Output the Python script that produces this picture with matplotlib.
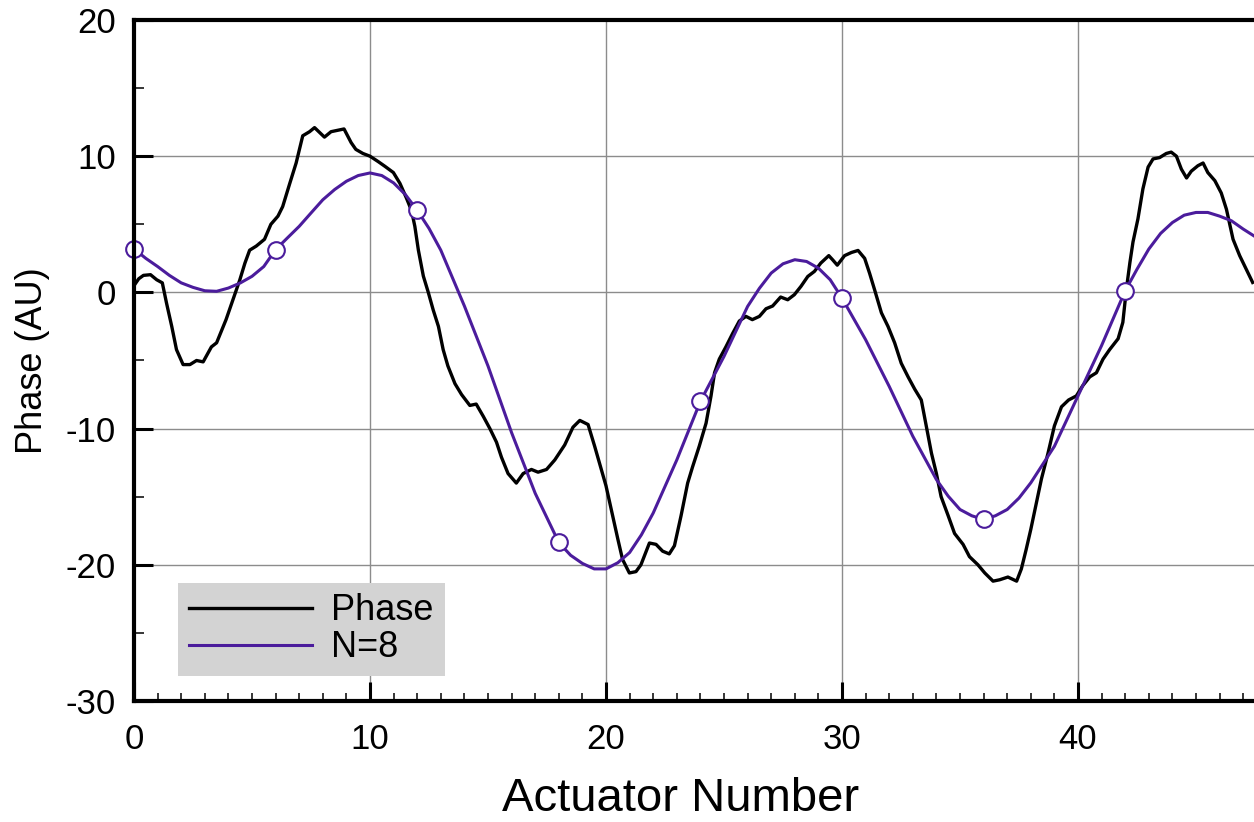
import numpy as np
import matplotlib.pyplot as plt
from matplotlib.ticker import MultipleLocator

plt.rcParams['font.family'] = ['Liberation Sans', 'DejaVu Sans']
plt.rcParams['axes.unicode_minus'] = False

# measured phase along the actuators
phase_x = [0.0, 0.2, 0.4, 0.7, 0.96, 1.2, 1.38, 1.6, 1.8, 2.08, 2.37, 2.65, 2.93, 3.28, 3.5,
           3.9, 4.2, 4.48, 4.7, 4.9, 5.18, 5.53, 5.8, 6.1, 6.3, 6.6, 6.87, 7.15, 7.44, 7.65,
           8.07, 8.35, 8.63, 8.9, 9.2, 9.4, 9.7, 10.0, 10.35, 10.63, 10.99, 11.27, 11.55, 11.76,
           11.9, 12.05, 12.26, 12.47, 12.68, 12.9, 13.1, 13.3, 13.6, 13.88, 14.23, 14.5, 14.8,
           15.08, 15.36, 15.57, 15.85, 16.2, 16.49, 16.84, 17.12, 17.48, 17.83, 18.25, 18.6,
           18.89, 19.24, 19.52, 19.8, 20.0, 20.28, 20.5, 20.7, 20.99, 21.27, 21.48, 21.84, 22.12,
           22.4, 22.68, 22.9, 23.18, 23.46, 23.67, 23.95, 24.24, 24.45, 24.6, 24.8, 25.08, 25.37,
           25.65, 25.93, 26.2, 26.5, 26.78, 27.06, 27.4, 27.7, 27.98, 28.26, 28.55, 28.83, 29.1,
           29.44, 29.6, 29.8, 30.11, 30.4, 30.68, 30.96, 31.17, 31.38, 31.67, 31.95, 32.23, 32.51,
           32.8, 33.08, 33.36, 33.57, 33.79, 34.0, 34.2, 34.5, 34.77, 35.13, 35.4, 35.76, 36.05,
           36.4, 36.68, 37.03, 37.4, 37.6, 37.8, 38.0, 38.23, 38.45, 38.73, 39.0, 39.3, 39.6,
           39.93, 40.2, 40.5, 40.78, 41.06, 41.34, 41.7, 41.9, 42.05, 42.2, 42.33, 42.54, 42.75,
           42.97, 43.18, 43.46, 43.74, 43.95, 44.17, 44.38, 44.6, 44.8, 45.08, 45.3, 45.5, 45.8,
           46.07, 46.29, 46.57, 46.85, 47.13, 47.4]
phase_y = [0.5, 1.0, 1.25, 1.3, 0.93, 0.7, -0.8, -2.5, -4.2, -5.3, -5.3, -5.0, -5.1, -4.0, -3.7,
           -2.0, -0.5, 0.9, 2.15, 3.1, 3.4, 3.9, 5.0, 5.6, 6.3, 8.0, 9.5, 11.5, 11.8, 12.1,
           11.4, 11.8, 11.9, 12.0, 11.0, 10.5, 10.2, 10.0, 9.6, 9.26, 8.8, 8.0, 6.9, 6.0,
           4.85, 3.1, 1.2, 0.0, -1.3, -2.5, -4.2, -5.4, -6.7, -7.5, -8.3, -8.2, -9.1,
           -10.0, -11.0, -12.1, -13.3, -14.0, -13.3, -13.0, -13.2, -13.0, -12.3, -11.2, -9.9,
           -9.4, -9.7, -11.3, -13.0, -14.2, -16.4, -18.1, -19.6, -20.6, -20.5, -20.0, -18.4, -18.5,
           -19.0, -19.2, -18.6, -16.4, -14.0, -12.8, -11.3, -9.6, -7.6, -5.9, -4.9, -4.0, -3.0,
           -2.1, -1.76, -2.0, -1.76, -1.2, -1.0, -0.34, -0.54, -0.17, 0.44, 1.17, 1.54, 2.15,
           2.7, 2.4, 2.0, 2.7, 2.93, 3.08, 2.5, 1.4, 0.2, -1.5, -2.5, -3.7, -5.2,
           -6.2, -7.1, -7.9, -9.8, -11.8, -13.3, -15.0, -16.4, -17.7, -18.5, -19.4, -20.0, -20.6,
           -21.2, -21.1, -20.9, -21.2, -20.3, -18.9, -17.4, -15.5, -13.7, -11.8, -9.8, -8.4, -7.9,
           -7.6, -6.85, -6.2, -5.9, -4.9, -4.2, -3.4, -2.2, 0.24, 2.2, 3.7, 5.4, 7.6,
           9.2, 9.8, 9.9, 10.2, 10.3, 10.0, 9.05, 8.4, 8.9, 9.3, 9.5, 8.8, 8.2,
           7.3, 6.1, 3.9, 2.7, 1.7, 0.73]

# N=8 fit curve
fit_x = [0, 0.5, 1, 1.5, 2, 2.5, 3, 3.5, 4, 4.5, 5, 5.5, 6, 6.5, 7, 7.5, 8, 8.5, 9, 9.5, 10,
         10.5, 11, 11.5, 12, 12.5, 13, 14, 15, 16, 17, 18, 18.5, 19, 19.5, 20, 20.5, 21, 21.5,
         22, 23, 24, 25, 26, 26.5, 27, 27.5, 28, 28.5, 29, 29.5, 30, 31, 32, 33, 34, 34.5, 35,
         35.5, 36, 36.5, 37, 37.5, 38, 39, 40, 41, 42, 42.5, 43, 43.5, 44, 44.5, 45, 45.5, 46,
         46.5, 47, 47.5]
fit_y = [3.2, 2.5, 1.9, 1.25, 0.7, 0.37, 0.12, 0.08, 0.32, 0.69, 1.18, 1.9, 3.14, 4.0, 4.85,
         5.83, 6.8, 7.55, 8.16, 8.58, 8.77, 8.58, 8.04, 7.18, 6.03, 4.7, 3.1, -1.0, -5.4, -10.3,
         -14.75, -18.36, -19.3, -19.9, -20.3, -20.3, -19.85, -19.1, -17.8, -16.2, -12.3, -8.0,
         -4.7, -1.03, 0.3, 1.42, 2.1, 2.4, 2.27, 1.78, 0.93, -0.42, -3.47, -6.9, -10.56, -13.74,
         -14.96, -15.94, -16.4, -16.67, -16.4, -15.94, -15.1, -13.98, -11.3, -7.6, -3.9, 0.12,
         1.7, 3.18, 4.33, 5.13, 5.67, 5.87, 5.87, 5.6, 5.26, 4.65, 4.1]

# sample points of the fit (every 6th actuator)
sample_x = [0, 6, 12, 18, 24, 30, 36, 42]
sample_y = [3.2, 3.14, 6.03, -18.36, -8.0, -0.42, -16.67, 0.12]

x_ticks = [0, 10, 20, 30, 40]
purple = '#4b1c9c'

fig = plt.figure(figsize=(12.54, 8.22), dpi=100)
# axes runs off the right edge of the picture, like the original
ax = fig.add_axes([134/1254, 121/822, 50*23.6/1254, 681/822])

ax.plot(phase_x, phase_y, color='black', lw=2.4, label='Phase')
ax.plot(fit_x, fit_y, color=purple, lw=2.2, label='N=8')
ax.plot(sample_x, sample_y, 'o', ms=12, mfc='white', mec=purple, mew=1.5, clip_on=False)

ax.set_xlim(0, 50)
ax.set_ylim(-30, 20)
ax.set_xticks(x_ticks)
ax.xaxis.set_minor_locator(MultipleLocator(1))
ax.yaxis.set_major_locator(MultipleLocator(10))
ax.yaxis.set_minor_locator(MultipleLocator(5))
ax.grid(True, which='major', color='#8c8c8c', lw=1.0)
ax.set_axisbelow(True)

for s in ['left', 'bottom', 'top']:
    ax.spines[s].set_linewidth(3)
ax.spines['right'].set_visible(False)

ax.tick_params(axis='x', which='major', direction='in', length=14, width=2.2, labelsize=25, pad=16)
ax.tick_params(axis='x', which='minor', direction='in', length=6, width=1.1)
ax.tick_params(axis='y', which='major', direction='in', length=14, width=2.2, labelsize=25, pad=13)
ax.tick_params(axis='y', which='minor', direction='in', length=7, width=1.1)

ax.set_xlabel('Actuator Number', fontsize=34)
ax.set_ylabel('Phase (AU)', fontsize=26)
# place labels where the original has them
ax.xaxis.set_label_coords(547/1180, -76/681)
ax.yaxis.set_label_coords(-84/1180, 0.5)

leg = ax.legend(loc='lower left', bbox_to_anchor=(44/1180, 25/681), borderaxespad=0,
                fontsize=26, frameon=True, fancybox=False, handlelength=3.4,
                handletextpad=0.55, labelspacing=0.05, borderpad=0.3)
leg.get_frame().set_facecolor('#d3d3d3')
leg.get_frame().set_edgecolor('none')
leg.get_frame().set_alpha(1)

fig.savefig('out.png', dpi=100)
